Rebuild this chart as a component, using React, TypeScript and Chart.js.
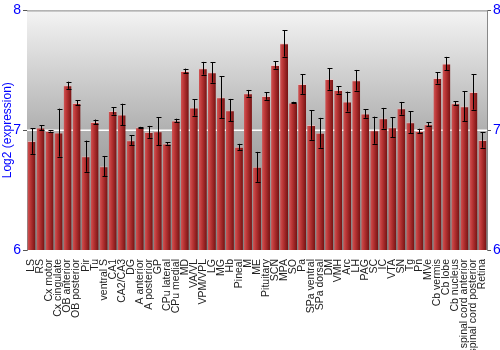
import React, { useEffect, useRef } from "react";
import { Chart, registerables } from "chart.js";

Chart.register(...registerables);

const categories = [
  "LS", "RS", "Cx motor", "Cx cingulate", "OB anterior", "OB posterior", "Pir", "Tu",
  "ventral S", "CA1", "CA2/CA3", "DG", "A anterior", "A posterior", "GP", "CPu lateral",
  "CPu medial", "MD", "VA/VL", "VPM/VPL", "LG", "MG", "Hb", "Pineal", "M", "ME",
  "Pituitary", "SCN", "MPA", "SO", "Pa", "SPa ventral", "SPa dorsal", "DM", "VMH", "Arc",
  "LH", "PAG", "SC", "IC", "VTA", "SN", "Tg", "Pn", "MVe", "Cb vermis", "Cb lobe",
  "Cb nucleus", "spinal cord anterior", "spinal cord posterior", "Retina",
];

const expression = [
  6.91, 7.022, 6.994, 6.98, 7.375, 7.228, 6.783, 7.069,
  6.70, 7.161, 7.131, 6.917, 7.025, 6.986, 6.992, 6.889,
  7.081, 7.494, 7.189, 7.517, 7.483, 7.275, 7.167, 6.861, 7.308, 6.694,
  7.286, 7.544, 7.725, 7.231, 7.386, 7.044, 6.978, 7.428, 7.336, 7.239,
  7.417, 7.139, 7.0, 7.10, 7.025, 7.183, 7.067, 6.994, 7.05, 7.436, 7.556,
  7.225, 7.2, 7.319, 6.919,
];

const errors = [
  0.108, 0.02, 0.005, 0.2, 0.03, 0.02, 0.13, 0.02,
  0.085, 0.03, 0.09, 0.04, 0.003, 0.05, 0.117, 0.01,
  0.015, 0.02, 0.068, 0.053, 0.086, 0.175, 0.094, 0.025, 0.028, 0.125,
  0.032, 0.03, 0.11, 0.006, 0.083, 0.124, 0.125, 0.09, 0.03, 0.083,
  0.086, 0.035, 0.113, 0.086, 0.082, 0.053, 0.092, 0.018, 0.018, 0.047, 0.056,
  0.018, 0.125, 0.147, 0.065,
];

const yTicks = [6, 7, 8];

const decorPlugin = {
  id: "decor",
  beforeDatasetsDraw(chart: any) {
    const { ctx, chartArea } = chart;
    const { left, right, top, bottom } = chartArea;
    ctx.save();
    const g = ctx.createLinearGradient(0, top, 0, bottom);
    g.addColorStop(0, "#f4f4f4");
    g.addColorStop(0.5, "#b0b0b0");
    g.addColorStop(1, "#808080");
    ctx.fillStyle = g;
    ctx.fillRect(left, top, right - left, bottom - top);
    const y7 = chart.scales.y.getPixelForValue(7);
    ctx.strokeStyle = "#ffffff";
    ctx.lineWidth = 1.5;
    ctx.beginPath();
    ctx.moveTo(left, y7);
    ctx.lineTo(right, y7);
    ctx.stroke();
    ctx.strokeStyle = "#888888";
    ctx.lineWidth = 1;
    ctx.beginPath();
    ctx.moveTo(left, top + 0.5);
    ctx.lineTo(right, top + 0.5);
    ctx.stroke();
    ctx.restore();
    const meta = chart.getDatasetMeta(0);
    meta.data.forEach((el: any) => {
      const w = el.width;
      const x0 = el.x - w / 2;
      const bg = ctx.createLinearGradient(x0, 0, x0 + w, 0);
      bg.addColorStop(0, "#d05555");
      bg.addColorStop(0.35, "#bb3636");
      bg.addColorStop(1, "#751212");
      el.options = Object.assign({}, el.options, {
        backgroundColor: bg,
        borderColor: "rgba(255,190,190,0.55)",
        borderWidth: { top: 1, left: 0, right: 0, bottom: 0 },
      });
    });
  },
  afterDatasetsDraw(chart: any) {
    const { ctx } = chart;
    const ys = chart.scales.y;
    const meta = chart.getDatasetMeta(0);
    ctx.save();
    ctx.strokeStyle = "#000000";
    ctx.lineWidth = 1;
    meta.data.forEach((el: any, i: number) => {
      const v = expression[i];
      const e = errors[i];
      const yTop = ys.getPixelForValue(v + e);
      const yBot = ys.getPixelForValue(v - e);
      const x = Math.round(el.x) + 0.5;
      ctx.beginPath();
      ctx.moveTo(x, yTop);
      ctx.lineTo(x, yBot);
      ctx.moveTo(x - 2, Math.round(yTop) + 0.5);
      ctx.lineTo(x + 3, Math.round(yTop) + 0.5);
      ctx.moveTo(x - 2, Math.round(yBot) + 0.5);
      ctx.lineTo(x + 3, Math.round(yBot) + 0.5);
      ctx.stroke();
    });
    ctx.restore();
  },
};

export default function App() {
  const ref = useRef<HTMLCanvasElement>(null);
  useEffect(() => {
    document.body.style.margin = "0";
    const font = "'Liberation Sans', Arial, sans-serif";
    const yAxisCommon = (width: number, withTitle: boolean) => ({
      min: 6,
      max: 8,
      afterBuildTicks: (s: any) => {
        s.ticks = yTicks.map((v) => ({ value: v }));
      },
      ticks: { color: "#0000ff", font: { family: font, size: 14 }, padding: 2 },
      grid: { drawOnChartArea: false, color: "#555555", tickLength: 4 },
      border: { color: "#888888" },
      title: {
        display: withTitle,
        text: "Log2 (expression)",
        color: "#0000ff",
        font: { family: font, size: 12 },
        padding: { top: 0, bottom: 0 },
      },
      afterFit: (s: any) => {
        s.width = width;
      },
    });
    const chart = new Chart(ref.current as HTMLCanvasElement, {
      type: "bar",
      data: {
        labels: categories,
        datasets: [
          {
            data: expression,
            backgroundColor: "#a02828",
            borderWidth: 0,
            categoryPercentage: 1,
            barPercentage: 0.88,
          },
        ],
      },
      options: {
        animation: false,
        responsive: false,
        layout: { padding: { top: 10, left: 0, right: 0, bottom: 0 } },
        plugins: { legend: { display: false }, tooltip: { enabled: false } },
        scales: {
          x: {
            grid: { display: false },
            border: { display: false },
            ticks: {
              autoSkip: false,
              maxRotation: 90,
              minRotation: 90,
              color: "#222222",
              font: { family: font, size: 10.5 },
              padding: 1,
            },
            afterFit: (s: any) => {
              s.height = 100;
            },
          },
          y: { position: "left", ...yAxisCommon(27, true) } as any,
          y2: { position: "right", ...yAxisCommon(13, false) } as any,
        },
      },
      plugins: [decorPlugin],
    });
    return () => chart.destroy();
  }, []);
  return (
    <div style={{ position: "absolute", left: 0, top: 0, width: 500, height: 350 }}>
      <canvas ref={ref} width={500} height={350} />
    </div>
  );
}
